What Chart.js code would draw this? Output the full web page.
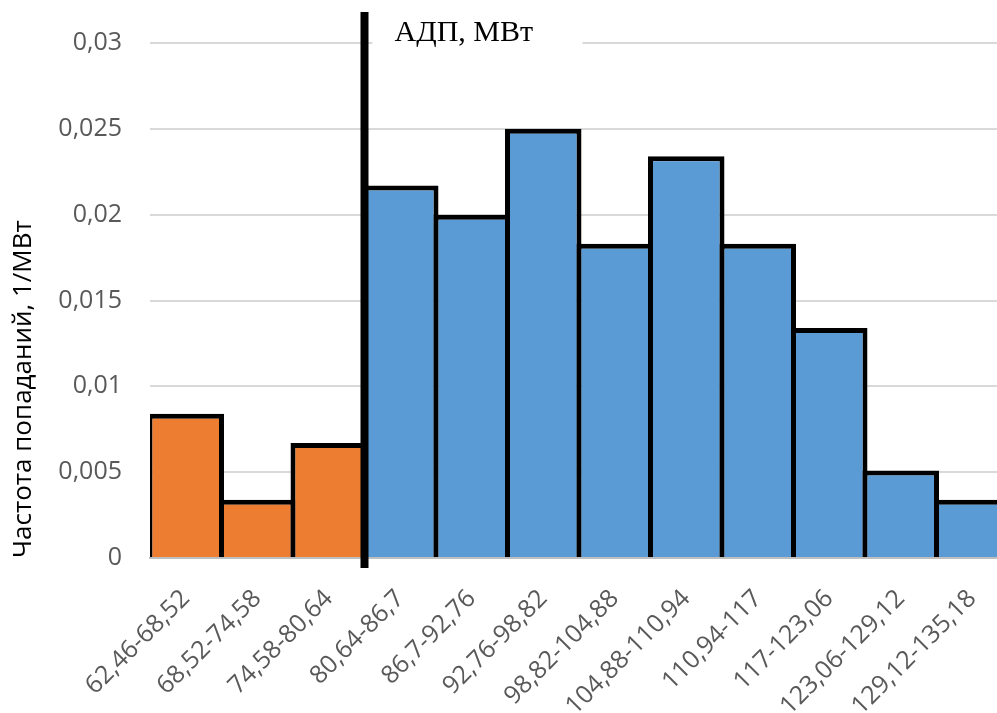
<!DOCTYPE html>
<html>
<head>
<meta charset="utf-8">
<script src="https://cdn.jsdelivr.net/npm/chart.js@4.4.0/dist/chart.umd.min.js"></script>
<style>
  html, body { margin: 0; padding: 0; background: #fff; overflow: hidden; }
  #wrap { width: 1012px; height: 713px; position: relative; }
</style>
</head>
<body>
<div id="wrap"><canvas id="c" width="1012" height="713"></canvas></div>
<script>
const categories = ["62,46-68,52","68,52-74,58","74,58-80,64","80,64-86,7","86,7-92,76","92,76-98,82","98,82-104,88","104,88-110,94","110,94-117","117-123,06","123,06-129,12","129,12-135,18"];
const frequencies = [0.0084, 0.0034, 0.0067, 0.0217, 0.0200, 0.0250, 0.0183, 0.0234, 0.0183, 0.0134, 0.0051, 0.0034];
const groupColors = ["#ED7D31","#ED7D31","#ED7D31","#5B9BD5","#5B9BD5","#5B9BD5","#5B9BD5","#5B9BD5","#5B9BD5","#5B9BD5","#5B9BD5","#5B9BD5"];
const yTicks = [0, 0.005, 0.01, 0.015, 0.02, 0.025, 0.03];
const annotationText = "АДП, МВт";

const overlay = {
  id: 'overlay',
  afterDatasetsDraw(chart) {
    const {ctx, scales: {x, y}} = chart;
    const px = (x.getPixelForValue(2) + x.getPixelForValue(3)) / 2;
    ctx.save();
    ctx.fillStyle = '#fff';
    ctx.fillRect(px + 8, 14, 210, 36);
    ctx.fillStyle = '#000';
    ctx.font = '30px "Liberation Serif", "DejaVu Serif", serif';
    ctx.textBaseline = 'alphabetic';
    ctx.textAlign = 'left';
    ctx.fillText(annotationText, px + 30, 41);
    ctx.fillRect(px - 4, 12, 8, y.getPixelForValue(0) + 10 - 12);
    ctx.restore();
  }
};

new Chart(document.getElementById('c'), {
  type: 'bar',
  data: {
    labels: categories,
    datasets: [{
      data: frequencies,
      backgroundColor: groupColors,
      borderColor: '#000',
      borderWidth: 5,
      barPercentage: 1.07,
      categoryPercentage: 1.0
    }]
  },
  options: {
    responsive: false,
    animation: false,
    devicePixelRatio: 1,
    layout: { padding: { top: 32, right: 4, left: 0, bottom: 0 } },
    plugins: { legend: { display: false }, tooltip: { enabled: false } },
    scales: {
      x: {
        afterFit(axis) { axis.height = 155; },
        grid: { display: false },
        border: { display: true, color: '#BFBFBF', width: 2 },
        ticks: {
          color: '#595959',
          font: { family: '"Open Sans"', size: 25 },
          maxRotation: 45, minRotation: 45,
          padding: 18,
          autoSkip: false
        }
      },
      y: {
        min: 0, max: 0.03,
        afterFit(axis) { axis.width = 150; },
        afterBuildTicks(axis) { axis.ticks = yTicks.map(v => ({value: v})); },
        grid: {
          color: (c) => c.tick && c.tick.value === 0 ? '#BFBFBF' : '#D9D9D9',
          lineWidth: 2,
          drawTicks: false
        },
        border: { display: false },
        ticks: {
          color: '#595959',
          font: { family: '"Open Sans"', size: 25 },
          padding: 28,
          callback: (v) => String(Math.round(v * 1000) / 1000).replace('.', ',')
        },
        title: {
          display: true,
          text: 'Частота попаданий, 1/МВт',
          align: 'start',
          color: '#000',
          font: { family: '"Open Sans"', size: 26 },
          padding: { top: 8, bottom: 0 }
        }
      }
    }
  },
  plugins: [overlay]
});
</script>
</body>
</html>
